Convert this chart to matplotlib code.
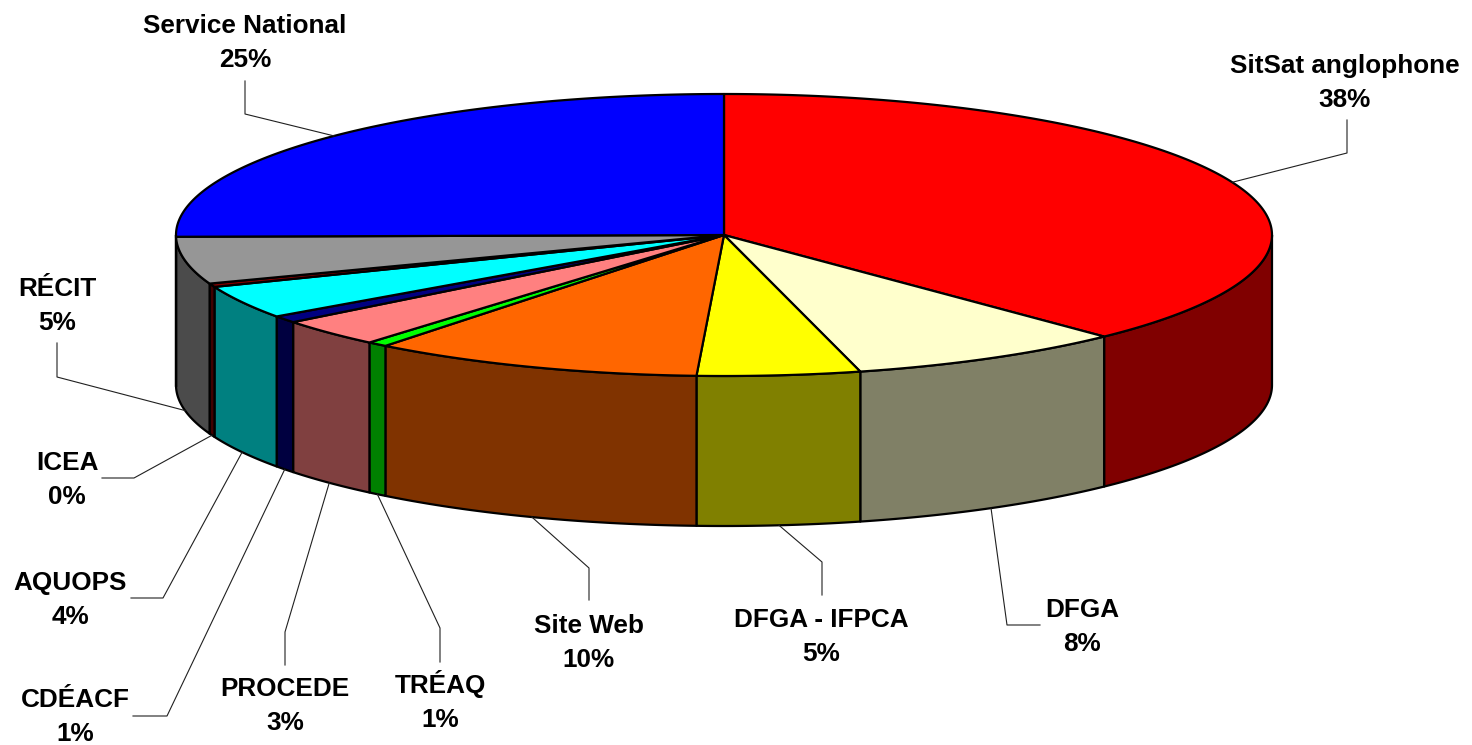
import numpy as np
import matplotlib.pyplot as plt
from matplotlib.patches import Polygon

plt.rcParams['font.family'] = ['Liberation Sans', 'DejaVu Sans']

labels = ["SitSat anglophone", "DFGA", "DFGA - IFPCA", "Site Web", "TRÉAQ", "PROCEDE",
          "CDÉACF", "AQUOPS", "ICEA", "RÉCIT", "Service National"]
values = [37.8, 8.2, 4.8, 9.8, 0.6, 3.2, 0.8, 3.8, 0.4, 5.4, 25.2]
top_colors = ['#FF0000', '#FFFFCC', '#FFFF00', '#FF6600', '#00FF00', '#FF8080',
              '#000080', '#00FFFF', '#800000', '#969696', '#0000FF']
side_colors = ['#800000', '#808066', '#808000', '#803300', '#008000', '#804040',
               '#000040', '#008080', '#400000', '#4B4B4B', '#000080']

# geometry of the pie in pixel space
cx, cy = 724, 235
rx, ry = 548, 141
depth = 150

# label layout: text centre x, name baseline y, leader elbow, leader end
label_x = [1345, 1082, 821, 589, 440, 285, 75, 70, 67, 57, 245]
label_base = [73, 617, 627, 633, 693, 696, 707, 590, 470, 296, 33]
elbows = [(1347, 153), (1007, 625), (822, 562), (589, 568), (440, 628), (285, 632),
          (167, 716), (163, 598), (134, 478), (57, 377), (245, 114)]
ends = [(1347, 120), (1040, 625), (822, 595), (589, 600), (440, 662), (285, 665),
        (133, 716), (131, 598), (102, 478), (57, 343), (245, 81)]


def pt(theta, dz=0):
    return cx + rx * np.sin(theta), cy - ry * np.cos(theta) + dz


fig = plt.figure(figsize=(14.72, 7.45), dpi=100)
ax = fig.add_axes([0, 0, 1, 1])
ax.set_xlim(0, 1472)
ax.set_ylim(745, 0)
ax.axis('off')

frac = np.array(values) / sum(values)
bounds = np.concatenate([[0], np.cumsum(frac)]) * 2 * np.pi

# side walls (front half only)
for i in range(len(values)):
    t0 = max(bounds[i], np.pi / 2)
    t1 = min(bounds[i + 1], 3 * np.pi / 2)
    if t1 <= t0:
        continue
    th = np.linspace(t0, t1, 80)
    x, y = pt(th)
    xs = np.concatenate([x, x[::-1]])
    ys = np.concatenate([y, (y + depth)[::-1]])
    ax.add_patch(Polygon(np.column_stack([xs, ys]), closed=True, fc=side_colors[i],
                         ec='black', lw=1.6, joinstyle='round'))

# top faces
for i in range(len(values)):
    th = np.linspace(bounds[i], bounds[i + 1], 200)
    x, y = pt(th)
    xs = np.concatenate([[cx], x])
    ys = np.concatenate([[cy], y])
    ax.add_patch(Polygon(np.column_stack([xs, ys]), closed=True, fc=top_colors[i],
                         ec='black', lw=1.6, joinstyle='round'))

# labels and leader lines
for i in range(len(values)):
    mid = (bounds[i] + bounds[i + 1]) / 2
    if np.cos(mid) < 0:
        ax_, ay_ = pt(mid, depth)
    else:
        ax_, ay_ = pt(mid)
    ax.plot([ax_, elbows[i][0], ends[i][0]], [ay_, elbows[i][1], ends[i][1]],
            color='#202020', lw=0.8)
    ax.text(label_x[i], label_base[i], labels[i], ha='center', va='baseline',
            fontsize=18.8, fontweight='bold')
    ax.text(label_x[i], label_base[i] + 34, f"{round(values[i])}%", ha='center',
            va='baseline', fontsize=18.8, fontweight='bold')

fig.savefig('out.png', dpi=100)
